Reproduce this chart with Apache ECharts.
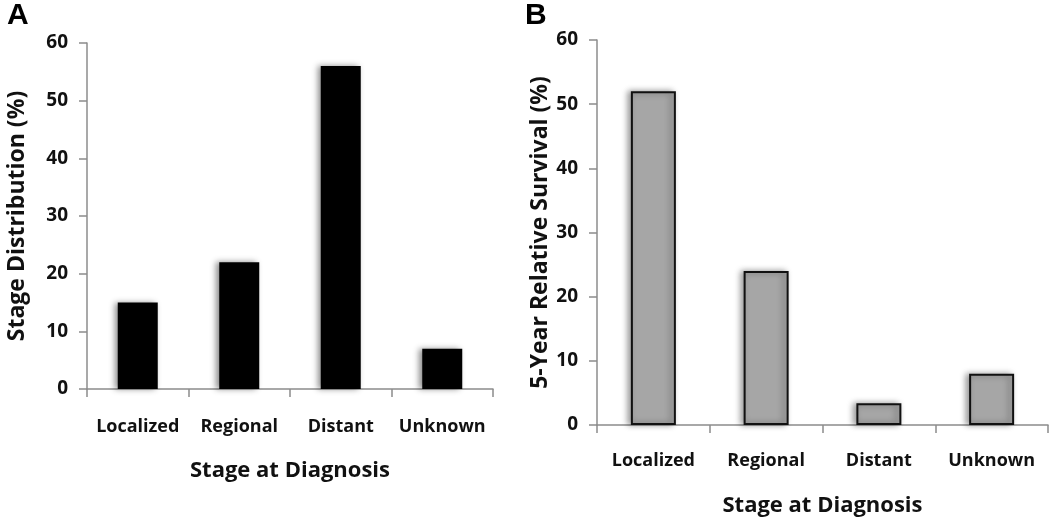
<!DOCTYPE html>
<html><head><meta charset="utf-8">
<script src="https://cdn.jsdelivr.net/npm/echarts@6/dist/echarts.min.js"></script>
<style>html,body{margin:0;padding:0;background:#fff}#c{width:1050px;height:522px}</style>
</head><body><div id="c"></div>
<script>
const categories = ['Localized', 'Regional', 'Distant', 'Unknown'];
const stageDistribution = [15, 22, 56, 7];
const relativeSurvival = [52, 24, 3.4, 8];
const yTicks = [0, 10, 20, 30, 40, 50, 60];

const font = '"Open Sans", "DejaVu Sans", sans-serif';
const axisGray = '#8c8c8c';

function yAxis(gridIndex, name, nameGap, nameSize) {
  return {
    gridIndex, type: 'value', min: yTicks[0], max: yTicks[yTicks.length - 1], interval: 10,
    name, nameLocation: 'middle', nameGap, nameRotate: 90,
    nameTextStyle: { fontFamily: font, fontWeight: 'bold', fontSize: nameSize, color: '#111' },
    axisLine: { show: true, lineStyle: { color: axisGray, width: 1.5 } },
    axisTick: { show: true, length: 8, lineStyle: { color: axisGray, width: 1.5 } },
    axisLabel: { fontFamily: font, fontWeight: 'bold', fontSize: 19, color: '#111', margin: 19 },
    splitLine: { show: false }
  };
}
function xAxis(gridIndex, nameGap, labelMargin) {
  return {
    gridIndex, type: 'category', data: categories,
    name: 'Stage at Diagnosis', nameLocation: 'middle', nameGap,
    nameTextStyle: { fontFamily: font, fontWeight: 'bold', fontSize: 22, color: '#111' },
    axisLine: { show: true, lineStyle: { color: axisGray, width: 1.5 } },
    axisTick: { show: true, length: 8, interval: 0, lineStyle: { color: axisGray, width: 1.5 } },
    axisLabel: { fontFamily: font, fontWeight: 'bold', fontSize: 18, color: '#111', margin: labelMargin, interval: 0 }
  };
}

const chart = echarts.init(document.getElementById('c'), null, { renderer: 'canvas' });
chart.setOption({
  animation: false,
  backgroundColor: '#fff',
  title: [
    { text: 'A', left: 2, top: -4, textStyle: { fontFamily: '"Liberation Sans", Arial, sans-serif', fontWeight: 'bold', fontSize: 30, color: '#000' } },
    { text: 'B', left: 520, top: -4, textStyle: { fontFamily: '"Liberation Sans", Arial, sans-serif', fontWeight: 'bold', fontSize: 30, color: '#000' } }
  ],
  grid: [
    { left: 87, top: 43, width: 406, height: 346 },
    { left: 597, top: 40, width: 451, height: 385 }
  ],
  xAxis: [xAxis(0, 71, 29), xAxis(1, 70, 27)],
  yAxis: [yAxis(0, 'Stage Distribution (%)', 58, 23), yAxis(1, '5-Year Relative Survival (%)', 40, 23)],
  series: [
    {
      type: 'bar', xAxisIndex: 0, yAxisIndex: 0, data: stageDistribution, barWidth: 40,
      itemStyle: { color: '#000', shadowColor: 'rgba(0,0,0,0.45)', shadowBlur: 6, shadowOffsetX: -3, shadowOffsetY: 0 }
    },
    {
      type: 'bar', xAxisIndex: 1, yAxisIndex: 1, data: relativeSurvival, barWidth: 45,
      itemStyle: { color: '#a6a6a6', borderColor: '#111', borderWidth: 2, shadowColor: 'rgba(0,0,0,0.4)', shadowBlur: 6, shadowOffsetX: -3, shadowOffsetY: 0 }
    }
  ]
});
</script></body></html>
